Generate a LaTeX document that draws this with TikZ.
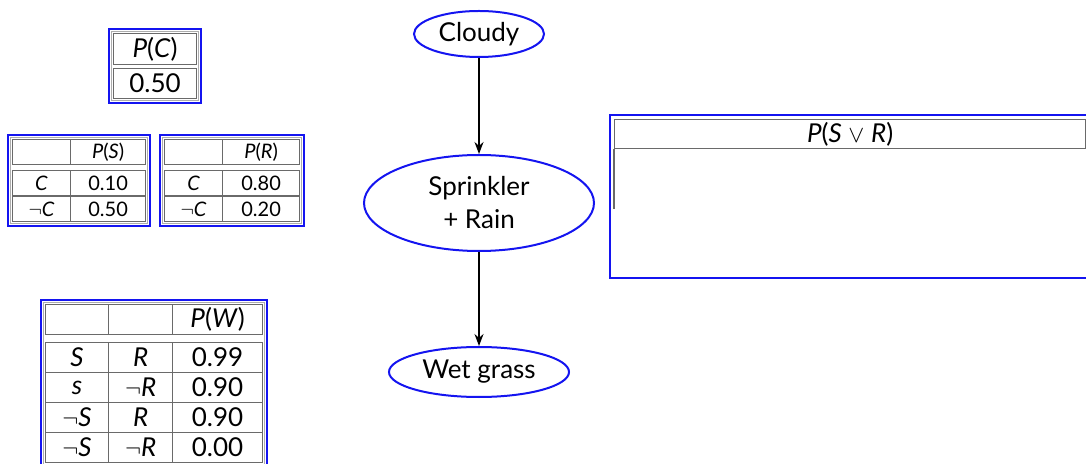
\documentclass[tikz,border=0pt]{standalone}
\usepackage{fontspec}
\setmainfont{Lato}
\usetikzlibrary{arrows.meta,positioning,fit,shapes.geometric}
\definecolor{nodeblue}{HTML}{1414F0}
\definecolor{cellgray}{HTML}{6A6A6A}
\tikzset{
  bnode/.style={draw=nodeblue,line width=1pt,ellipse,align=center,inner sep=0pt,
    font=\fontsize{13}{16.5}\selectfont},
  cell/.style={draw=cellgray,line width=0.6pt,anchor=north west,inner sep=0pt,
    font=\fontsize{13}{15}\selectfont},
  scell/.style={cell,font=\fontsize{10}{11}\selectfont},
  inframe/.style={draw=cellgray!55,line width=0.5pt,inner sep=0.8pt},
  frame/.style={draw=nodeblue,line width=1.1pt,inner sep=0.9pt},
  arrow/.style={-{Stealth[length=6pt,width=4.5pt]},line width=0.8pt}
}
\begin{document}
\begin{tikzpicture}[x=0.5pt,y=-0.5pt]
    \clip (0,0) rectangle (1086,464);
    % network
    \node[bnode,minimum width=65pt,minimum height=23pt] (cloudy) at (479,34) {Cloudy};
    \node[bnode,minimum width=115pt,minimum height=48pt] (sprain) at (479,203) {Sprinkler\\+ Rain};
    \node[bnode,minimum width=90pt,minimum height=25pt] (wet) at (479,372) {Wet grass};
    \foreach \a/\b in {cloudy/sprain,sprain/wet}{\draw[arrow] (\a) -- (\b);}
    % P(C)
    \node[cell,minimum width=41.5pt,minimum height=15.5pt] (pc) at (113,33) {\textit{P}(\textit{C})};
    \node[cell,minimum width=41.5pt,minimum height=15pt] (pcv) at (113,68) {0.50};
    \node[inframe,fit=(pc)(pcv)] (pcIn) {};
    \node[frame,fit=(pcIn)] (pcBox) {};
    % P(S) and P(R)
    \node[scell,minimum width=29pt,minimum height=12.5pt] (sh0) at (12,139) {};
    \node[scell,minimum width=37.5pt,minimum height=12.5pt] (sh1) at (70,139) {\textit{P}(\textit{S})};
    \foreach \c/\v [count=\i from 0] in {\textit{C}/0.10,$\neg$\textit{C}/0.50}{
      \node[scell,minimum width=29pt,minimum height=12.75pt] (s\i a) at (12,{170+25.5*\i}) {\c};
      \node[scell,minimum width=37.5pt,minimum height=12.75pt] (s\i b) at (70,{170+25.5*\i}) {\v};
    }
    \node[inframe,fit=(sh0)(s1b)] (psIn) {};
    \node[frame,fit=(psIn)] (psBox) {};
    \node[scell,minimum width=29pt,minimum height=12.5pt] (rh0) at (164,139) {};
    \node[scell,minimum width=38.5pt,minimum height=12.5pt] (rh1) at (222,139) {\textit{P}(\textit{R})};
    \foreach \c/\v [count=\i from 0] in {\textit{C}/0.80,$\neg$\textit{C}/0.20}{
      \node[scell,minimum width=29pt,minimum height=12.75pt] (r\i a) at (164,{170+25.5*\i}) {\c};
      \node[scell,minimum width=38.5pt,minimum height=12.75pt] (r\i b) at (222,{170+25.5*\i}) {\v};
    }
    \node[inframe,fit=(rh0)(r1b)] (prIn) {};
    \node[frame,fit=(prIn)] (prBox) {};
    % P(W)
    \node[cell,minimum width=31.5pt,minimum height=15pt] (wh0) at (45,304) {};
    \node[cell,minimum width=32pt,minimum height=15pt] (wh1) at (108,304) {};
    \node[cell,minimum width=45pt,minimum height=15pt] (wh2) at (172,304) {\textit{P}(\textit{W})};
    \foreach \s/\r/\v [count=\i from 0] in {\textit{S}/\textit{R}/0.99,\textit{s}/$\neg$\textit{R}/0.90,
        $\neg$\textit{S}/\textit{R}/0.90,$\neg$\textit{S}/$\neg$\textit{R}/0.00}{
      \node[cell,minimum width=31.5pt,minimum height=15pt] (w\i a) at (45,{342+30*\i}) {\s};
      \node[cell,minimum width=32pt,minimum height=15pt] (w\i b) at (108,{342+30*\i}) {\r};
      \node[cell,minimum width=45pt,minimum height=15pt] (w\i c) at (172,{342+30*\i}) {\v};
    }
    \node[inframe,fit=(wh0)(w3c)] (pwIn) {};
    \node[frame,fit=(pwIn)] (pwBox) {};
    % P(S or R)
    \node[cell,minimum width=235.5pt,minimum height=14.5pt] (sr) at (614,119) {\textit{P}(\textit{S} $\vee$ \textit{R})};
    \draw[draw=cellgray,line width=0.6pt] (sr.south west) -- ++(0,60);
    \node[frame,inner sep=0pt,fit={(610,115)(1100,278)}] (srBox) {};
\end{tikzpicture}
\end{document}
